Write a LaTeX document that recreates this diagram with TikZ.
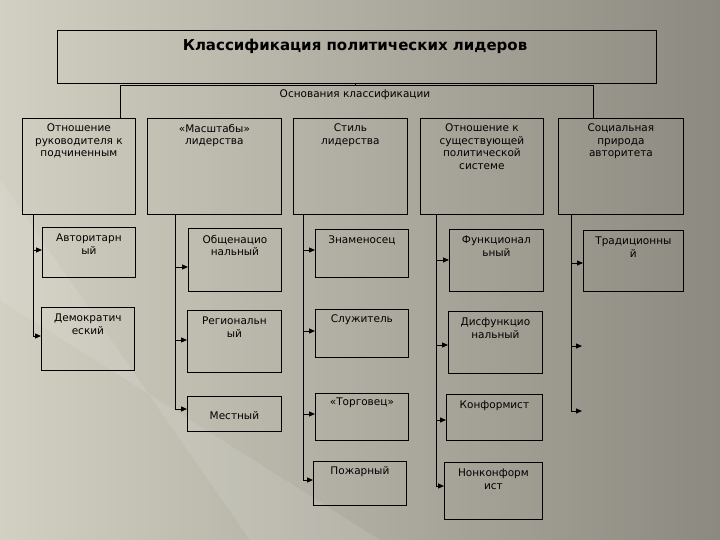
\documentclass[tikz,border=0pt]{standalone}
\usepackage{fontspec}
\setmainfont{DejaVu Sans}
\usetikzlibrary{arrows.meta}
\definecolor{bgl}{HTML}{D2D0C2}
\definecolor{bgr}{HTML}{8C8980}
\begin{document}
\begin{tikzpicture}[x=1pt,y=-1pt,
  box/.style={draw=black,line width=0.8pt,anchor=north west,inner sep=0pt},
  txt/.style={anchor=north,align=center,font=\fontsize{10.5}{12.5}\selectfont,inner sep=0pt},
  ln/.style={line width=0.8pt},
  arr/.style={line width=1pt,-{Triangle[length=6pt,width=5pt]}}]
\useasboundingbox (0,0) rectangle (720,540);
\shade[left color=bgl, right color=bgr] (0,0) rectangle (720,540);
\fill[white,opacity=0.1] (0,180) -- (250,540) -- (380,540) -- (0,300) -- cycle;
% title
\node[box,minimum width=599pt,minimum height=53pt] (t) at (57,30) {};
\node[txt,font=\bfseries\fontsize{15}{17}\selectfont] (tt) at (355,39) {Классификация политических лидеров};
\coordinate (hb) at (355,85);
\coordinate (hl) at (120,85);
\coordinate (hr) at (593,85);
\draw[ln] (t.south -| hb) -- (hb);
\draw[ln] (hl) -- (hr);
\node[txt] (ht) at (355,90) {Основания классификации};
% headers
\node[box,minimum width=113pt,minimum height=96pt] (h1) at (22,118) {};
\node[box,minimum width=134pt,minimum height=96pt] (h2) at (147,118) {};
\node[box,minimum width=114pt,minimum height=96pt] (h3) at (293,118) {};
\node[box,minimum width=123pt,minimum height=96pt] (h4) at (420,118) {};
\node[box,minimum width=125pt,minimum height=96pt] (h5) at (558,118) {};
\draw[ln] (hl) -- (hl |- h1.north);
\draw[ln] (hr) -- (hr |- h5.north);
\node[txt] (h1t) at (h1.north) [yshift=-6pt] {Отношение\\руководителя к\\подчиненным};
\node[txt] (h2t) at (h2.north) [yshift=-6pt] {«Масштабы»\\лидерства};
\node[txt] (h3t) at (h3.north) [yshift=-6pt] {Стиль\\лидерства};
\node[txt] (h4t) at (h4.north) [yshift=-6pt] {Отношение к\\существующей\\политической\\системе};
\node[txt] (h5t) at (h5.north) [yshift=-6pt] {Социальная\\природа\\авторитета};
% column 1
\node[box,minimum width=93pt,minimum height=50pt] (a1) at (42,227) {};
\node[box,minimum width=93pt,minimum height=63pt] (a2) at (41,307) {};
\node[txt] (a1t) at (a1.north) [yshift=-7pt] {Авторитарн\\ый};
\node[txt] (a2t) at (a2.north) [yshift=-7pt] {Демократич\\еский};
\coordinate (c1) at (33,336);
\draw[ln] (h1.south -| c1) -- (c1);
\draw[arr] (33,250) -- (a1.west |- 0,250);
\draw[arr] (c1) -- (a2.west |- c1);
% column 2
\node[box,minimum width=93pt,minimum height=63pt] (b1) at (188,228) {};
\node[box,minimum width=94pt,minimum height=62pt] (b2) at (187,310) {};
\node[box,minimum width=94pt,minimum height=35pt] (b3) at (187,396) {};
\node[txt] (b1t) at (b1.north) [yshift=-7pt] {Общенацио\\нальный};
\node[txt] (b2t) at (b2.north) [yshift=-7pt] {Региональн\\ый};
\node[txt,anchor=center] (b3t) at (b3.center) [yshift=-2pt] {Местный};
\coordinate (c2) at (175,409);
\draw[ln] (h2.south -| c2) -- (c2);
\draw[arr] (175,267) -- (b1.west |- 0,267);
\draw[arr] (175,340) -- (b2.west |- 0,340);
\draw[arr] (c2) -- (b3.west |- c2);
% column 3
\node[box,minimum width=93pt,minimum height=48pt] (s1) at (315,229) {};
\node[box,minimum width=93pt,minimum height=48pt] (s2) at (315,309) {};
\node[box,minimum width=93pt,minimum height=47pt] (s3) at (315,393) {};
\node[box,minimum width=93pt,minimum height=44pt] (s4) at (313,461) {};
\node[txt] (s1t) at (s1.north) [yshift=-7pt] {Знаменосец};
\node[txt] (s2t) at (s2.north) [yshift=-6pt] {Служитель};
\node[txt] (s3t) at (s3.north) [yshift=-5pt] {«Торговец»};
\node[txt] (s4t) at (s4.north) [yshift=-5pt] {Пожарный};
\coordinate (c3) at (303,480);
\draw[ln] (h3.south -| c3) -- (c3);
\draw[arr] (303,250) -- (s1.west |- 0,250);
\draw[arr] (303,331) -- (s2.west |- 0,331);
\draw[arr] (303,414) -- (s3.west |- 0,414);
\draw[arr] (c3) -- (s4.west |- c3);
% column 4
\node[box,minimum width=94pt,minimum height=62pt] (f1) at (449,229) {};
\node[box,minimum width=94pt,minimum height=62pt] (f2) at (448,311) {};
\node[box,minimum width=96pt,minimum height=46pt] (f3) at (446,394) {};
\node[box,minimum width=98pt,minimum height=57pt] (f4) at (444,462) {};
\node[txt] (f1t) at (f1.north) [yshift=-7pt] {Функционал\\ьный};
\node[txt] (f2t) at (f2.north) [yshift=-7pt] {Дисфункцио\\нальный};
\node[txt] (f3t) at (f3.north) [yshift=-7pt] {Конформист};
\node[txt] (f4t) at (f4.north) [yshift=-7pt] {Нонконформ\\ист};
\coordinate (c4) at (436,486);
\draw[ln] (h4.south -| c4) -- (c4);
\draw[arr] (436,260) -- (f1.west |- 0,260);
\draw[arr] (436,345) -- (f2.west |- 0,345);
\draw[arr] (436,420) -- (f3.west |- 0,420);
\draw[arr] (c4) -- (f4.west |- c4);
% column 5
\node[box,minimum width=100pt,minimum height=61pt] (r1) at (583,230) {};
\node[txt] (r1t) at (r1.north) [yshift=-7pt] {Традиционны\\й};
\coordinate (c5) at (571,411);
\coordinate (e1) at (582,346);
\coordinate (e2) at (582,411);
\draw[ln] (h5.south -| c5) -- (c5);
\draw[arr] (571,263) -- (r1.west |- 0,263);
\draw[arr] (571,346) -- (e1);
\draw[arr] (c5) -- (e2);
\end{tikzpicture}
\end{document}
